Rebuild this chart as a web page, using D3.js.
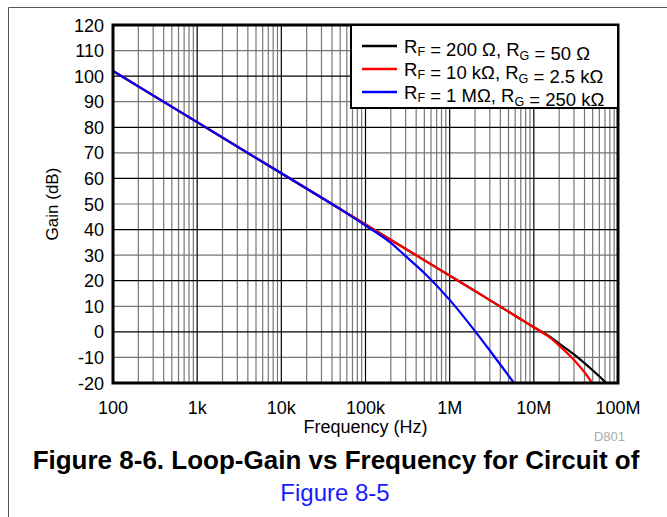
<!DOCTYPE html>
<html><head><meta charset="utf-8">
<script src="https://cdn.jsdelivr.net/npm/d3@7"></script>
<style>
body{margin:0;background:#fff;}
svg{display:block;font-family:"Liberation Sans",Arial,sans-serif;}
</style></head>
<body><svg id="c" width="667" height="517"></svg>
<script>
// ---- data ----
const xTicks = [1e2,1e3,1e4,1e5,1e6,1e7,1e8];
const xTickLabels = ["100","1k","10k","100k","1M","10M","100M"];
const yTicks = [-20,-10,0,10,20,30,40,50,60,70,80,90,100,110,120];

const seriesNames = ["R_F = 200 Ω, R_G = 50 Ω","R_F = 10 kΩ, R_G = 2.5 kΩ","R_F = 1 MΩ, R_G = 250 kΩ"];
const seriesColors = ["#000000","#ff0000","#0000ff"];

const freqBlack = [1e2,1e3,1e4,1e5,1e6,3e6,6e6,1e7,1.5e7,2e7,3e7,4e7,5e7,7e7,8e7];
const gainBlack = [102,82,62,42,22,12.4,6.3,1.8,-1.6,-4.6,-8.8,-12.2,-15,-19.5,-21.4];
const freqRed = [1e2,1e3,1e4,1e5,1e6,3e6,6e6,1e7,1.5e7,2e7,3e7,4e7,5e7];
const gainRed = [102,82,62,42,22,12.4,6.3,1.8,-1.9,-5.4,-11.0,-15.8,-20.3];
const freqBlue = [1e2,1e3,1e4,5e4,1e5,2e5,3e5,5e5,1e6,2e6,3e6,5e6,6e6];
const gainBlue = [102,82,62,48,41.6,34.8,29.6,23.0,12.5,0.3,-7.3,-17.1,-20.6];

// ---- layout ----
const svg = d3.select("#c");
const L=113, R=618, T=25, B=383;
const x = d3.scaleLog().domain([1e2,1e8]).range([L,R]);
const y = d3.scaleLinear().domain([-20,120]).range([B,T]);

// outer frame (top & left)
svg.append("line").attr("x1",8.5).attr("x2",667).attr("y1",7.5).attr("y2",7.5).attr("stroke","#555").attr("stroke-width",1);
svg.append("line").attr("x1",8.5).attr("x2",8.5).attr("y1",7.5).attr("y2",517).attr("stroke","#555").attr("stroke-width",1);

const g = svg.append("g");
const minor = [];
for (let d=2; d<8; d++) for (let m=2; m<=9; m++) minor.push(m*Math.pow(10,d));
g.selectAll(".vmin").data(minor).join("line")
 .attr("x1",d=>x(d)).attr("x2",d=>x(d)).attr("y1",T).attr("y2",B)
 .attr("stroke","#777").attr("stroke-width",1.2);
g.selectAll(".hg").data(yTicks).join("line")
 .attr("x1",L).attr("x2",R).attr("y1",d=>y(d)).attr("y2",d=>y(d))
 .attr("stroke",d=>(d%20===0)?"#000":"#777").attr("stroke-width",1.2);
g.selectAll(".vmaj").data(xTicks).join("line")
 .attr("x1",d=>x(d)).attr("x2",d=>x(d)).attr("y1",T).attr("y2",B)
 .attr("stroke","#000").attr("stroke-width",1.2);

svg.append("clipPath").attr("id","pc").append("rect").attr("x",L).attr("y",T).attr("width",R-L).attr("height",B-T);

const line = d3.line().x(d=>x(d[0])).y(d=>y(d[1])).curve(d3.curveMonotoneX);
const series = [
  {f:freqBlack,g:gainBlack,c:seriesColors[0]},
  {f:freqRed,g:gainRed,c:seriesColors[1]},
  {f:freqBlue,g:gainBlue,c:seriesColors[2]}
];
const lg = svg.append("g").attr("clip-path","url(#pc)");
series.forEach(s=>{
  lg.append("path").datum(s.f.map((f,i)=>[f,s.g[i]]))
    .attr("d",line).attr("fill","none").attr("stroke",s.c).attr("stroke-width",2.2);
});

svg.append("rect").attr("x",L).attr("y",T).attr("width",R-L).attr("height",B-T)
 .attr("fill","none").attr("stroke","#000").attr("stroke-width",3);

// legend
const LX=351, LY=T, LW=R-LX, LH=83;
svg.append("rect").attr("x",LX).attr("y",LY).attr("width",LW).attr("height",LH)
 .attr("fill","#fff").attr("stroke","#000").attr("stroke-width",2);
const rowsY=[46,69,92];
seriesNames.forEach((n,i)=>{
  svg.append("line").attr("x1",362).attr("x2",397).attr("y1",rowsY[i]).attr("y2",rowsY[i])
    .attr("stroke",seriesColors[i]).attr("stroke-width",2.5);
  const parts = n.split(/(R_F|R_G)/).filter(s=>s.length);
  const t = svg.append("text").attr("x",404).attr("y",rowsY[i]+6.5).attr("font-size",18.5).attr("fill","#000");
  parts.forEach(p=>{
    if (p==="R_F"||p==="R_G"){
      t.append("tspan").text("R");
      t.append("tspan").attr("font-size",12.5).attr("dy",3.5).text(p==="R_F"?"F":"G");
      t.append("tspan").attr("dy",-3.5).text("");
    } else t.append("tspan").text(p);
  });
});

// tick labels
svg.selectAll(".xl").data(xTicks).join("text")
 .attr("x",d=>x(d)).attr("y",414).attr("text-anchor","middle").attr("font-size",18)
 .text((d,i)=>xTickLabels[i]);
svg.selectAll(".yl").data(yTicks).join("text")
 .attr("x",104).attr("y",d=>y(d)+6.5).attr("text-anchor","end").attr("font-size",18)
 .text(d=>d);

// axis titles
svg.append("text").attr("x",(L+R)/2).attr("y",433).attr("text-anchor","middle").attr("font-size",18).text("Frequency (Hz)");
svg.append("text").attr("transform",`translate(58,${(T+B)/2}) rotate(-90)`).attr("text-anchor","middle").attr("font-size",17).text("Gain (dB)");
svg.append("text").attr("x",625).attr("y",441).attr("text-anchor","end").attr("font-size",13).attr("fill","#aaa").text("D801");

// caption
svg.append("text").attr("x",336).attr("y",469).attr("text-anchor","middle").attr("font-size",26).attr("font-weight","bold").text("Figure 8-6. Loop-Gain vs Frequency for Circuit of");
svg.append("text").attr("x",335).attr("y",501).attr("text-anchor","middle").attr("font-size",24).attr("fill","#1a1aff").text("Figure 8-5");
</script></body></html>
